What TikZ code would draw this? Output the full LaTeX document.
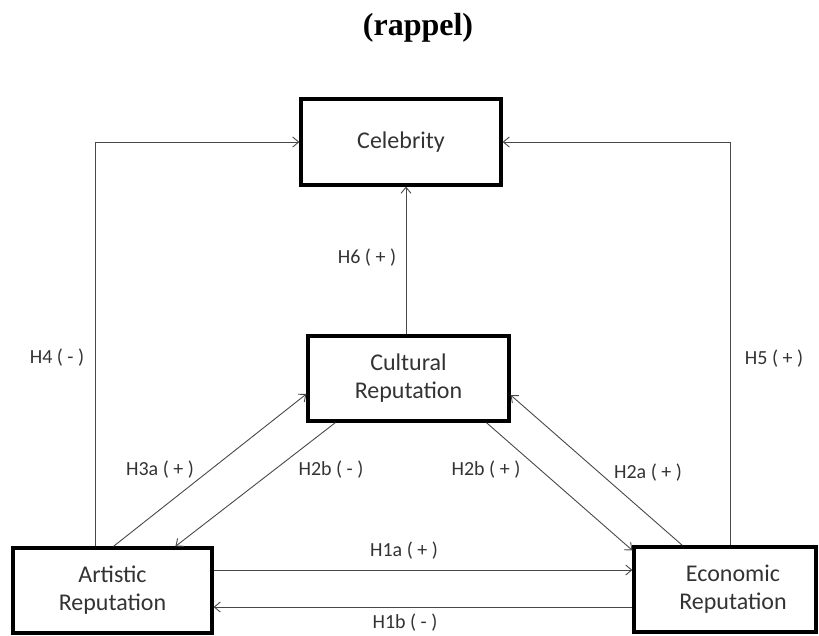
\documentclass[tikz,border=0pt]{standalone}
\usepackage{fontspec}
\setmainfont{Carlito}
\newfontfamily\titlefont{Liberation Serif}
\usetikzlibrary{arrows.meta,calc}
\definecolor{txt}{HTML}{333333}
\definecolor{ln}{HTML}{484848}
\begin{document}
\begin{tikzpicture}[x=1pt,y=-1pt,
  box/.style={draw=black, line width=3.2pt, inner sep=0pt, align=center, text=txt,
    font=\fontsize{24}{28}\selectfont},
  lbl/.style={text=txt, font=\fontsize{20}{22}\selectfont, inner sep=0pt},
  conn/.style={draw=ln, line width=0.9pt, -{Straight Barb[length=6pt,width=10pt]}}]
\useasboundingbox (0,0) rectangle (819,635);
% title
\node[font=\titlefont\bfseries\fontsize{32}{36}\selectfont] (title) at (418,28) {(rappel)};
% boxes
\node[box, minimum width=200pt, minimum height=86pt] (cel) at (401,142) {Celebrity};
\node[box, minimum width=201pt, minimum height=85pt] (cul) at (408.5,378.5) {Cultural\\Reputation};
\node[box, minimum width=199pt, minimum height=85pt] (art) at (112.5,590.5) {Artistic\\Reputation};
\node[box, minimum width=182pt, minimum height=85pt] (eco) at (725,589.5) {\hspace*{16pt}Economic\\\hspace*{16pt}Reputation};
% helper coordinates
\coordinate (h4x) at (95,0);
\coordinate (h5x) at (730,0);
\coordinate (h6x) at (406,0);
\coordinate (h1a) at (0,570);
\coordinate (h1b) at (0,607);
% connectors
\draw[conn] (art.north -| h4x) |- (cel.west);
\draw[conn] (eco.north -| h5x) |- (cel.east);
\draw[conn] (cul.north -| h6x) -- (cel.south -| h6x);
\draw[conn] ($(art.north west)+(102,0)$) -- ($(cul.west)+(0,15.5)$);
\draw[conn] ($(cul.south west)+(29,0)$) -- ($(art.north west)+(164,0)$);
\draw[conn] ($(cul.south west)+(180,0)$) -- ($(eco.north west)+(0,5)$);
\draw[conn] ($(eco.north west)+(50,0)$) -- ($(cul.east)+(0,16.5)$);
\draw[conn] (art.east |- h1a) -- (eco.west |- h1a);
\draw[conn] (eco.west |- h1b) -- (art.east |- h1b);
% labels
\node[lbl] (l4) at (57,358) {H4 ( - )};
\node[lbl] (l5) at (774,359) {H5 ( + )};
\node[lbl] (l6) at (367,258) {H6 ( + )};
\node[lbl] (l3a) at (160,470) {H3a ( + )};
\node[lbl] (l2bm) at (331,470) {H2b ( - )};
\node[lbl] (l2bp) at (486,470) {H2b ( + )};
\node[lbl] (l2a) at (648,473) {H2a ( + )};
\node[lbl] (l1a) at (404,551) {H1a ( + )};
\node[lbl] (l1b) at (405,622.5) {H1b ( - )};
\end{tikzpicture}
\end{document}
